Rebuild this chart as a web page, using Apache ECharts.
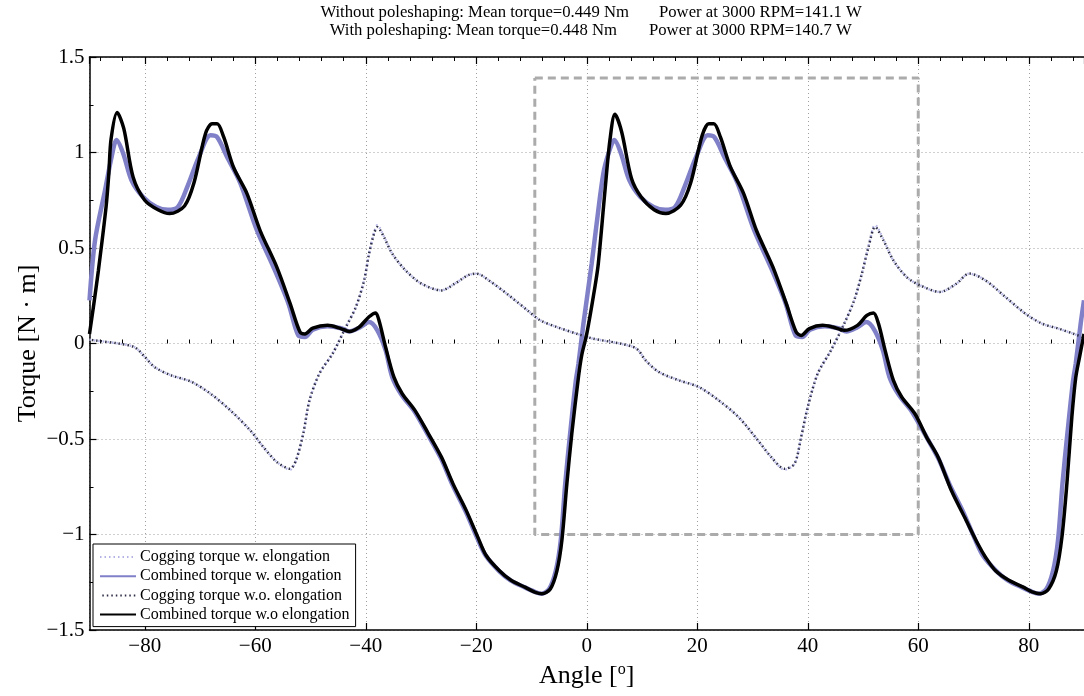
<!DOCTYPE html>
<html>
<head>
<meta charset="utf-8">
<title>Torque vs angle</title>
<script src="https://cdn.jsdelivr.net/npm/echarts@6/dist/echarts.min.js"></script>
<style>
html, body { margin: 0; padding: 0; background: #fff; }
#chart { width: 1084px; height: 696px; }
</style>
</head>
<body>
<div id="chart"></div>
<script>
// combined torque without elongation (black)
var combinedWoAngle = [-90, -89.3, -88.4, -87.0, -86.5, -86.1, -85.0, -83.8, -82.1, -80, -77.6, -75.5, -72.8, -71.1, -69.0, -67.8, -66.9, -65.7, -63.9, -61.5, -59.1, -56.1, -53.7, -51.9, -51.0, -49.6, -46.9, -44.5, -43.0, -41.2, -39.4, -38.2, -37.6, -36.4, -34.9, -33.4, -31.1, -28.7, -26.3, -24.2, -21.8, -19.7, -18.2, -15.8, -13.7, -11.1, -9.3, -8.1, -6.6, -5.4, -4.5, -3.6, -2.7, -1.5, -0.9, 0, 1.5, 2.1, 3.3, 4.2, 5.1, 6.3, 8.1, 9.85, 12.2, 14.3, 17.0, 18.8, 20.9, 22.1, 23.0, 24.2, 26.0, 28.4, 30.7, 33.7, 36.1, 37.9, 38.8, 40.3, 42.7, 44.5, 46.6, 49.0, 50.7, 51.9, 52.8, 54.0, 55.5, 57.0, 59.4, 61.5, 63.6, 66.0, 68.4, 70.8, 72.2, 74.0, 76.4, 79.1, 80.6, 82.1, 83.6, 85.0, 86.0, 86.9, 87.8, 88.5, 89.2, 90];
var combinedWoTorque = [0.05, 0.19, 0.38, 0.715, 0.89, 1.07, 1.21, 1.126, 0.87, 0.75, 0.70, 0.68, 0.72, 0.84, 1.10, 1.15, 1.15, 1.08, 0.92, 0.785, 0.59, 0.40, 0.21, 0.06, 0.05, 0.08, 0.095, 0.078, 0.063, 0.086, 0.14, 0.16, 0.12, -0.02, -0.176, -0.263, -0.35, -0.47, -0.595, -0.735, -0.875, -1.015, -1.11, -1.19, -1.24, -1.277, -1.303, -1.31, -1.285, -1.19, -1.03, -0.735, -0.47, -0.176, -0.06, 0.05, 0.30, 0.42, 0.80, 1.065, 1.20, 1.11, 0.864, 0.767, 0.70, 0.68, 0.724, 0.84, 1.09, 1.15, 1.15, 1.08, 0.925, 0.785, 0.593, 0.40, 0.21, 0.06, 0.042, 0.078, 0.095, 0.086, 0.069, 0.095, 0.147, 0.16, 0.104, -0.036, -0.193, -0.28, -0.368, -0.49, -0.595, -0.77, -0.91, -1.05, -1.12, -1.19, -1.24, -1.277, -1.30, -1.31, -1.285, -1.19, -1.015, -0.735, -0.386, -0.18, -0.07, 0.05];

// combined torque with elongation (lavender)
var combinedWAngle = [-90, -89.0, -87.2, -86.0, -85.1, -83.9, -82.4, -80.3, -77.9, -75.8, -74.0, -72.3, -70.2, -68.1, -66.9, -65.1, -62.7, -59.7, -56.7, -54.0, -52.2, -51.0, -49.6, -46.9, -44.5, -43.0, -41.0, -39.4, -37.9, -36.4, -35.2, -33.5, -31.2, -28.8, -26.4, -24.3, -21.9, -19.8, -18.3, -15.9, -13.8, -11.2, -9.4, -8.2, -6.8, -5.6, -4.7, -3.9, -3.0, -2.0, -1.5, -0.6, 0.9, 1.8, 3.0, 4.0, 5.0, 6.2, 7.7, 9.7, 12.1, 14.2, 16.0, 17.7, 19.8, 21.9, 23.1, 24.9, 27.3, 30.3, 33.3, 36.0, 37.8, 39.0, 40.4, 43.1, 45.5, 47.0, 49.0, 50.6, 52.1, 53.6, 54.8, 56.5, 58.8, 61.2, 63.6, 65.7, 68.1, 70.2, 71.7, 74.1, 76.2, 78.8, 80.6, 81.8, 83.2, 84.4, 85.3, 86.1, 87.0, 88.0, 88.5, 89.4, 90];
var combinedWTorque = [0.226, 0.54, 0.80, 0.977, 1.065, 0.995, 0.855, 0.767, 0.715, 0.70, 0.715, 0.82, 0.977, 1.09, 1.08, 0.977, 0.84, 0.593, 0.40, 0.21, 0.042, 0.034, 0.072, 0.09, 0.08, 0.063, 0.085, 0.112, 0.069, -0.036, -0.176, -0.27, -0.355, -0.475, -0.60, -0.74, -0.88, -1.02, -1.11, -1.19, -1.24, -1.277, -1.30, -1.31, -1.285, -1.19, -1.03, -0.735, -0.47, -0.2, -0.106, 0.104, 0.42, 0.63, 0.89, 1.0, 1.065, 0.995, 0.855, 0.767, 0.715, 0.70, 0.715, 0.82, 0.977, 1.09, 1.08, 0.977, 0.84, 0.593, 0.40, 0.21, 0.042, 0.034, 0.072, 0.09, 0.08, 0.063, 0.085, 0.112, 0.069, -0.036, -0.176, -0.27, -0.355, -0.475, -0.60, -0.74, -0.88, -1.02, -1.11, -1.19, -1.24, -1.277, -1.30, -1.31, -1.285, -1.19, -1.03, -0.735, -0.47, -0.2, -0.106, 0.104, 0.226];

// cogging torque w.o. elongation (dark dotted)
var coggingWoAngle = [-90, -89.0, -84.8, -81.8, -80, -78.2, -75.2, -71.6, -68.1, -64.5, -60.9, -58.5, -56.1, -53.7, -52.6, -51.3, -50.2, -48.4, -46.0, -43.6, -41.8, -40.3, -39.4, -38.5, -37.9, -36.7, -35.2, -32.8, -29.9, -26.3, -23.9, -21.5, -20.0, -17.3, -13.7, -10.7, -8.4, -5.4, -1.8, 1.2, 6.0, 9.0, 10.7, 13.1, 16.7, 20.3, 23.9, 27.5, 31.0, 33.4, 35.8, 37.6, 38.8, 40.0, 41.8, 44.2, 46.6, 48.4, 49.8, 51.0, 52.2, 53.7, 55.5, 57.9, 60.3, 63.9, 66.9, 69.2, 72.2, 75.8, 79.4, 82.4, 85.4, 88.1, 90];
var coggingWoTorque = [0.02, 0.016, 0.0, -0.02, -0.07, -0.124, -0.167, -0.20, -0.263, -0.35, -0.455, -0.543, -0.62, -0.656, -0.61, -0.47, -0.30, -0.158, -0.053, 0.086, 0.19, 0.33, 0.47, 0.575, 0.61, 0.557, 0.47, 0.383, 0.313, 0.278, 0.313, 0.357, 0.366, 0.322, 0.243, 0.173, 0.121, 0.086, 0.051, 0.025, 0.0, -0.027, -0.09, -0.15, -0.193, -0.228, -0.298, -0.386, -0.508, -0.595, -0.656, -0.63, -0.49, -0.333, -0.158, -0.036, 0.104, 0.226, 0.366, 0.505, 0.61, 0.54, 0.435, 0.348, 0.305, 0.27, 0.313, 0.366, 0.33, 0.243, 0.156, 0.104, 0.078, 0.051, 0.03];

// cogging torque with elongation (light dotted), nearly on top of the other one
var coggingWAngle = [-90, -89.0, -84.8, -81.8, -80, -78.2, -75.2, -71.6, -68.1, -64.5, -60.9, -58.5, -56.1, -53.7, -52.6, -51.3, -50.2, -48.4, -46.0, -43.6, -41.8, -40.3, -39.4, -38.5, -37.9, -36.7, -35.2, -32.8, -29.9, -26.3, -23.9, -21.5, -20.0, -17.3, -13.7, -10.7, -8.4, -5.4, -1.8, 1.2, 6.0, 9.0, 10.7, 13.1, 16.7, 20.3, 23.9, 27.5, 31.0, 33.4, 35.8, 37.6, 38.8, 40.0, 41.8, 44.2, 46.6, 48.4, 49.8, 51.0, 52.2, 53.7, 55.5, 57.9, 60.3, 63.9, 66.9, 69.2, 72.2, 75.8, 79.4, 82.4, 85.4, 88.1, 90];
var coggingWTorque = [0.02, 0.016, 0.0, -0.02, -0.07, -0.124, -0.167, -0.20, -0.263, -0.35, -0.455, -0.543, -0.62, -0.66, -0.61, -0.47, -0.30, -0.158, -0.053, 0.086, 0.19, 0.33, 0.47, 0.58, 0.62, 0.56, 0.47, 0.383, 0.313, 0.278, 0.313, 0.357, 0.366, 0.322, 0.243, 0.173, 0.121, 0.086, 0.051, 0.025, 0.0, -0.027, -0.09, -0.15, -0.193, -0.228, -0.298, -0.386, -0.508, -0.595, -0.66, -0.63, -0.49, -0.333, -0.158, -0.036, 0.104, 0.226, 0.366, 0.51, 0.62, 0.545, 0.435, 0.348, 0.305, 0.27, 0.313, 0.366, 0.33, 0.243, 0.156, 0.104, 0.078, 0.051, 0.03];

// grey dashed zoom box
var boxAngle = [-9.4, 60, 60, -9.4, -9.4];
var boxTorque = [1.39, 1.39, -1, -1, 1.39];

// minor tick positions on the angle axis
var xMinorTicks = [-88, -84, -76, -72, -68, -64, -56, -52, -48, -44, -36, -32, -28, -24, -16, -12, -8, -4, 4, 8, 12, 16, 24, 28, 32, 36, 44, 48, 52, 56, 64, 68, 72, 76, 84, 88];

var titleLeft = ['Without poleshaping: Mean torque=0.449 Nm', 'With poleshaping: Mean torque=0.448 Nm'];
var titleRight = ['Power at 3000 RPM=141.1 W', 'Power at 3000 RPM=140.7 W'];

var serif = '"Liberation Serif", "DejaVu Serif", serif';

function pairs(a, b) {
	var out = [];
	for (var i = 0; i < a.length; i++) {
		out.push([a[i], b[i]]);
	}
	return out;
}

//minus sign like matlab
function minus(v) {
	return String(v).replace('-', '\u2212');
}

function titleText(txt, x, y, align) {
	return {
		type: 'text', x: x, y: y, silent: true,
		style: {text: txt, align: align, verticalAlign: 'middle', textAlign: align, textVerticalAlign: 'middle', font: '16.7px ' + serif, fill: '#000'}
	};
}

var gridLine = {show: true, lineStyle: {color: '#a0a0a0', width: 1, type: [1, 3]}};

function minorAxis(pos) {
	return {
		type: 'value', min: -90, max: 90, position: pos, gridIndex: 0,
		axisLine: {show: false},
		axisTick: {show: true, inside: true, length: 4, customValues: xMinorTicks, lineStyle: {color: '#000', width: 1}},
		axisLabel: {show: false},
		splitLine: {show: false}
	};
}

var myChart = echarts.init(document.getElementById('chart'));
var option = {
	animation: false,
	backgroundColor: '#fff',
	grid: {left: 89.5, right: -10, top: 57, bottom: 66, containLabel: false},
	graphic: [
		titleText(titleLeft[0], 629, 13, 'right'),
		titleText(titleRight[0], 659, 13, 'left'),
		titleText(titleLeft[1], 617, 31, 'right'),
		titleText(titleRight[1], 649, 31, 'left')
	],
	legend: {
		orient: 'vertical',
		left: 93,
		top: 544,
		padding: [5, 6, 4, 6],
		itemGap: 3.2,
		itemWidth: 36,
		itemHeight: 14,
		backgroundColor: '#fff',
		borderColor: '#000',
		borderWidth: 1,
		borderRadius: 0,
		itemStyle: {opacity: 0},
		textStyle: {fontFamily: serif, fontSize: 16, lineHeight: 16, color: '#000', padding: [0, 0, 0, -1]},
		data: ['Cogging torque w. elongation', 'Combined torque w. elongation', 'Cogging torque w.o. elongation', 'Combined torque w.o elongation']
	},
	xAxis: [
		{
			type: 'value', min: -90, max: 90, splitNumber: 9, position: 'bottom',
			axisLine: {show: true, onZero: false, lineStyle: {color: '#000', width: 1.5}},
			axisTick: {show: true, inside: true, length: 7, lineStyle: {color: '#000', width: 1.2}},
			axisLabel: {formatter: minus, color: '#000', fontFamily: serif, fontSize: 21, margin: 6, showMinLabel: false, showMaxLabel: false},
			splitLine: gridLine,
			name: 'Angle [{sup|o}]',
			nameLocation: 'middle',
			nameGap: 27,
			nameTextStyle: {
				fontFamily: serif, fontSize: 26, color: '#000',
				rich: {sup: {fontFamily: serif, fontSize: 16, verticalAlign: 'top', padding: [0, 0, 12, 0]}}
			}
		},
		minorAxis('bottom'),
		{
			type: 'value', min: -90, max: 90, splitNumber: 9, position: 'top',
			axisLine: {show: true, onZero: false, lineStyle: {color: '#000', width: 1.5}},
			axisTick: {show: true, inside: true, length: 7, lineStyle: {color: '#000', width: 1.2}},
			axisLabel: {show: false},
			splitLine: {show: false}
		},
		minorAxis('top')
	],
	yAxis: {
		type: 'value', min: -1.5, max: 1.5, interval: 0.5,
		axisLine: {show: true, onZero: false, lineStyle: {color: '#000', width: 1.5}},
		axisTick: {show: true, inside: true, length: 7, lineStyle: {color: '#000', width: 1.2}},
		minorTick: {show: true, splitNumber: 2, length: 4, lineStyle: {color: '#000', width: 1}},
		axisLabel: {formatter: minus, color: '#000', fontFamily: serif, fontSize: 21, margin: 5},
		splitLine: gridLine,
		name: 'Torque [N \u00b7 m]',
		nameLocation: 'middle',
		nameRotate: 90,
		nameGap: 48,
		nameMoveOverlap: false,
		nameTextStyle: {fontFamily: serif, fontSize: 26, color: '#000'}
	},
	series: [
		{
			type: 'line', silent: true, symbol: 'none', z: 1,
			lineStyle: {color: '#ababab', width: 3, type: [8, 5]},
			data: pairs(boxAngle, boxTorque)
		},
		{
			name: 'Cogging torque w. elongation', type: 'line', symbol: 'none', z: 2, smooth: 0.3,
			color: '#b3b3e6',
			lineStyle: {color: '#b3b3e6', width: 2.4, type: [1.5, 3]},
			data: pairs(coggingWAngle, coggingWTorque)
		},
		{
			name: 'Combined torque w. elongation', type: 'line', symbol: 'none', z: 3, smooth: 0.3,
			color: '#8080c8',
			lineStyle: {color: '#8080c8', width: 4.5},
			data: pairs(combinedWAngle, combinedWTorque)
		},
		{
			name: 'Cogging torque w.o. elongation', type: 'line', symbol: 'none', z: 4, smooth: 0.3,
			color: '#2e2e48',
			lineStyle: {color: '#2e2e48', width: 2.5, type: [1.5, 3], dashOffset: 2.2},
			data: pairs(coggingWoAngle, coggingWoTorque)
		},
		{
			name: 'Combined torque w.o elongation', type: 'line', symbol: 'none', z: 5, smooth: 0.3,
			color: '#000',
			lineStyle: {color: '#000', width: 3.5},
			data: pairs(combinedWoAngle, combinedWoTorque)
		}
	]
};
myChart.setOption(option);
</script>
</body>
</html>
